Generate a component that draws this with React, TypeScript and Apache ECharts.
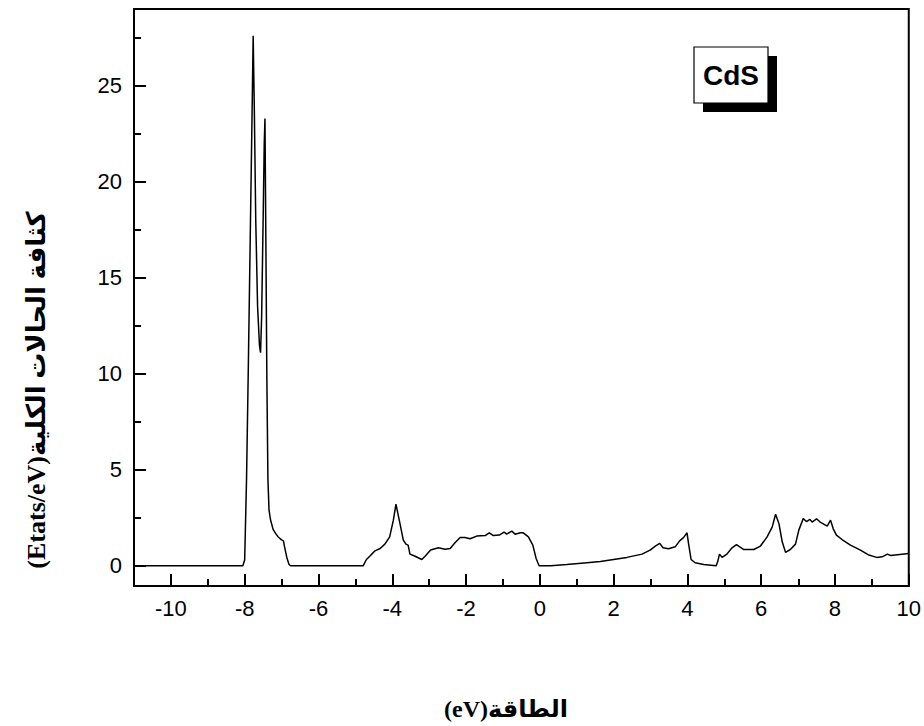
import React, { useEffect, useRef } from "react";
import * as echarts from "echarts";

const energy = [
  -11, -8.05, -8.0, -7.95, -7.9, -7.85, -7.8, -7.77, -7.74, -7.7, -7.65, -7.6, -7.57, -7.54, -7.5, -7.47, -7.45,
  -7.43, -7.4, -7.37, -7.34, -7.3, -7.23, -7.15, -7.09, -7.0, -6.95, -6.92, -6.86, -6.8, -6.76,
  -4.79, -4.7, -4.61, -4.47, -4.33, -4.2, -4.07, -3.97, -3.9, -3.81, -3.7, -3.63, -3.57, -3.52, -3.38, -3.2,
  -3.11, -2.96, -2.75, -2.57, -2.43, -2.3, -2.16, -2.03, -1.89, -1.71, -1.48, -1.37, -1.26, -1.1, -0.97, -0.9,
  -0.76, -0.67, -0.53, -0.45, -0.31, -0.19, -0.1, -0.02,
  0.3, 0.73, 1.2, 1.64, 2.0, 2.36, 2.77, 2.99, 3.13, 3.25, 3.34, 3.49, 3.67, 3.79, 3.9, 3.99, 4.03, 4.1, 4.21,
  4.44, 4.78, 4.82, 4.87, 4.94, 5.07, 5.21, 5.33, 5.53, 5.8, 5.98, 6.16, 6.3, 6.39, 6.48, 6.57, 6.66, 6.79, 6.93,
  7.02, 7.14, 7.23, 7.32, 7.38, 7.5, 7.61, 7.79, 7.88, 7.95, 8.04, 8.19, 8.42, 8.69, 8.92, 9.13, 9.28, 9.42, 9.51, 10.0,
];

const dos = [
  0, 0, 0.3, 4.5, 10.5, 17, 23.5, 27.6, 24, 18, 13.5, 11.5, 11.1, 13, 18, 22, 23.3,
  18, 10, 4.5, 2.9, 2.4, 1.9, 1.65, 1.5, 1.35, 1.3, 1.0, 0.45, 0.08, 0,
  0, 0.33, 0.5, 0.78, 0.9, 1.13, 1.51, 2.38, 3.21, 2.38, 1.34, 1.13, 1.08, 0.61, 0.5, 0.33,
  0.5, 0.82, 0.94, 0.86, 0.9, 1.2, 1.48, 1.48, 1.41, 1.55, 1.58, 1.72, 1.58, 1.6, 1.76, 1.65,
  1.81, 1.65, 1.72, 1.72, 1.51, 1.08, 0.38, 0,
  0.01, 0.07, 0.15, 0.22, 0.33, 0.44, 0.61, 0.82, 1.03, 1.17, 0.94, 0.89, 0.99, 1.3, 1.48, 1.72, 1.17, 0.33, 0.16,
  0.07, 0, 0.21, 0.61, 0.44, 0.61, 0.94, 1.11, 0.85, 0.85, 1.03, 1.51, 2.03, 2.69, 2.21, 1.25, 0.7, 0.85, 1.13,
  1.86, 2.47, 2.3, 2.42, 2.28, 2.45, 2.26, 2.07, 2.38, 1.94, 1.6, 1.37, 1.08, 0.82, 0.56, 0.44, 0.47, 0.61, 0.54, 0.64,
];

const xLabels = [-10, -8, -6, -4, -2, 0, 2, 4, 6, 8, 10];
const xMinorTicks = [-9, -7, -5, -3, -1, 1, 3, 5, 7, 9];
const yLabels = [0, 5, 10, 15, 20, 25];
const yMinorTicks = [2.5, 7.5, 12.5, 17.5, 22.5, 27.5];

const X_MIN = -11;
const X_MAX = 10;
const Y_MIN = -1.05;
const Y_MAX = 29;

const yTitle = "\u202Bكثافة الحالات الكلية(Etats/eV)\u202C";
const xTitle = "\u202Bالطاقة(eV)\u202C";
const boxLabel = "CdS";

export default function App() {
  const ref = useRef<HTMLDivElement>(null);

  useEffect(() => {
    if (!ref.current) return;
    const chart = echarts.init(ref.current, undefined, { renderer: "svg" });
    const gridPos = { left: 134, top: 9, right: 15, bottom: 140 };
    const labelFont = {
      fontFamily: "Arial, 'Liberation Sans', sans-serif",
      fontSize: 22,
      color: "#000",
    };
    const titleFont = "'Liberation Serif', 'Times New Roman', 'DejaVu Sans', serif";
    chart.setOption({
      animation: false,
      backgroundColor: "#fff",
      grid: [
        { ...gridPos, show: true, borderColor: "#000", borderWidth: 2, backgroundColor: "transparent" },
        { ...gridPos, show: false },
      ],
      xAxis: [
        {
          type: "value",
          gridIndex: 0,
          min: X_MIN,
          max: X_MAX,
          position: "bottom",
          axisLine: { show: true, onZero: false, lineStyle: { color: "#000", width: 2 } },
          axisTick: {
            show: true,
            inside: true,
            length: 12,
            customValues: xLabels,
            lineStyle: { color: "#000", width: 2 },
          },
          axisLabel: { show: true, margin: 11, customValues: xLabels, ...labelFont },
          splitLine: { show: false },
        },
        {
          type: "value",
          gridIndex: 1,
          min: X_MIN,
          max: X_MAX,
          position: "bottom",
          axisLine: { show: false, onZero: false },
          axisTick: {
            show: true,
            inside: true,
            length: 7,
            customValues: xMinorTicks,
            lineStyle: { color: "#000", width: 2 },
          },
          axisLabel: { show: false },
          splitLine: { show: false },
        },
      ],
      yAxis: [
        {
          type: "value",
          gridIndex: 0,
          min: Y_MIN,
          max: Y_MAX,
          position: "left",
          axisLine: { show: true, onZero: false, lineStyle: { color: "#000", width: 2 } },
          axisTick: {
            show: true,
            inside: true,
            length: 12,
            customValues: yLabels,
            lineStyle: { color: "#000", width: 2 },
          },
          axisLabel: { show: true, margin: 12, customValues: yLabels, ...labelFont },
          splitLine: { show: false },
        },
        {
          type: "value",
          gridIndex: 1,
          min: Y_MIN,
          max: Y_MAX,
          position: "left",
          axisLine: { show: false, onZero: false },
          axisTick: {
            show: true,
            inside: true,
            length: 7,
            customValues: yMinorTicks,
            lineStyle: { color: "#000", width: 2 },
          },
          axisLabel: { show: false },
          splitLine: { show: false },
        },
      ],
      series: [
        {
          type: "line",
          xAxisIndex: 0,
          yAxisIndex: 0,
          data: energy.map((e, i) => [e, dos[i]]),
          showSymbol: false,
          symbol: "none",
          smooth: false,
          clip: true,
          lineStyle: { color: "#000", width: 1.5 },
        },
      ],
      graphic: [
        {
          type: "text",
          x: 36,
          y: 390,
          rotation: Math.PI / 2,
          style: {
            text: yTitle,
            fontFamily: titleFont,
            fontWeight: "bold",
            fontSize: 26,
            fill: "#000",
            align: "center",
            verticalAlign: "middle",
          },
        },
        {
          type: "text",
          x: 506,
          y: 709,
          style: {
            text: xTitle,
            fontFamily: titleFont,
            fontWeight: "bold",
            fontSize: 24,
            fill: "#000",
            align: "center",
            verticalAlign: "middle",
          },
        },
        {
          type: "rect",
          shape: { x: 703, y: 56, width: 74, height: 56 },
          style: { fill: "#000" },
        },
        {
          type: "rect",
          shape: { x: 694, y: 47, width: 74, height: 56 },
          style: { fill: "#fff", stroke: "#000", lineWidth: 1.2 },
        },
        {
          type: "text",
          x: 731,
          y: 75,
          style: {
            text: boxLabel,
            fontFamily: "Arial, 'Liberation Sans', sans-serif",
            fontWeight: "bold",
            fontSize: 28,
            fill: "#000",
            align: "center",
            verticalAlign: "middle",
          },
        },
      ],
    });
    return () => chart.dispose();
  }, []);

  return (
    <div
      ref={ref}
      style={{ position: "fixed", left: 0, top: 0, width: 924, height: 726 }}
    />
  );
}
